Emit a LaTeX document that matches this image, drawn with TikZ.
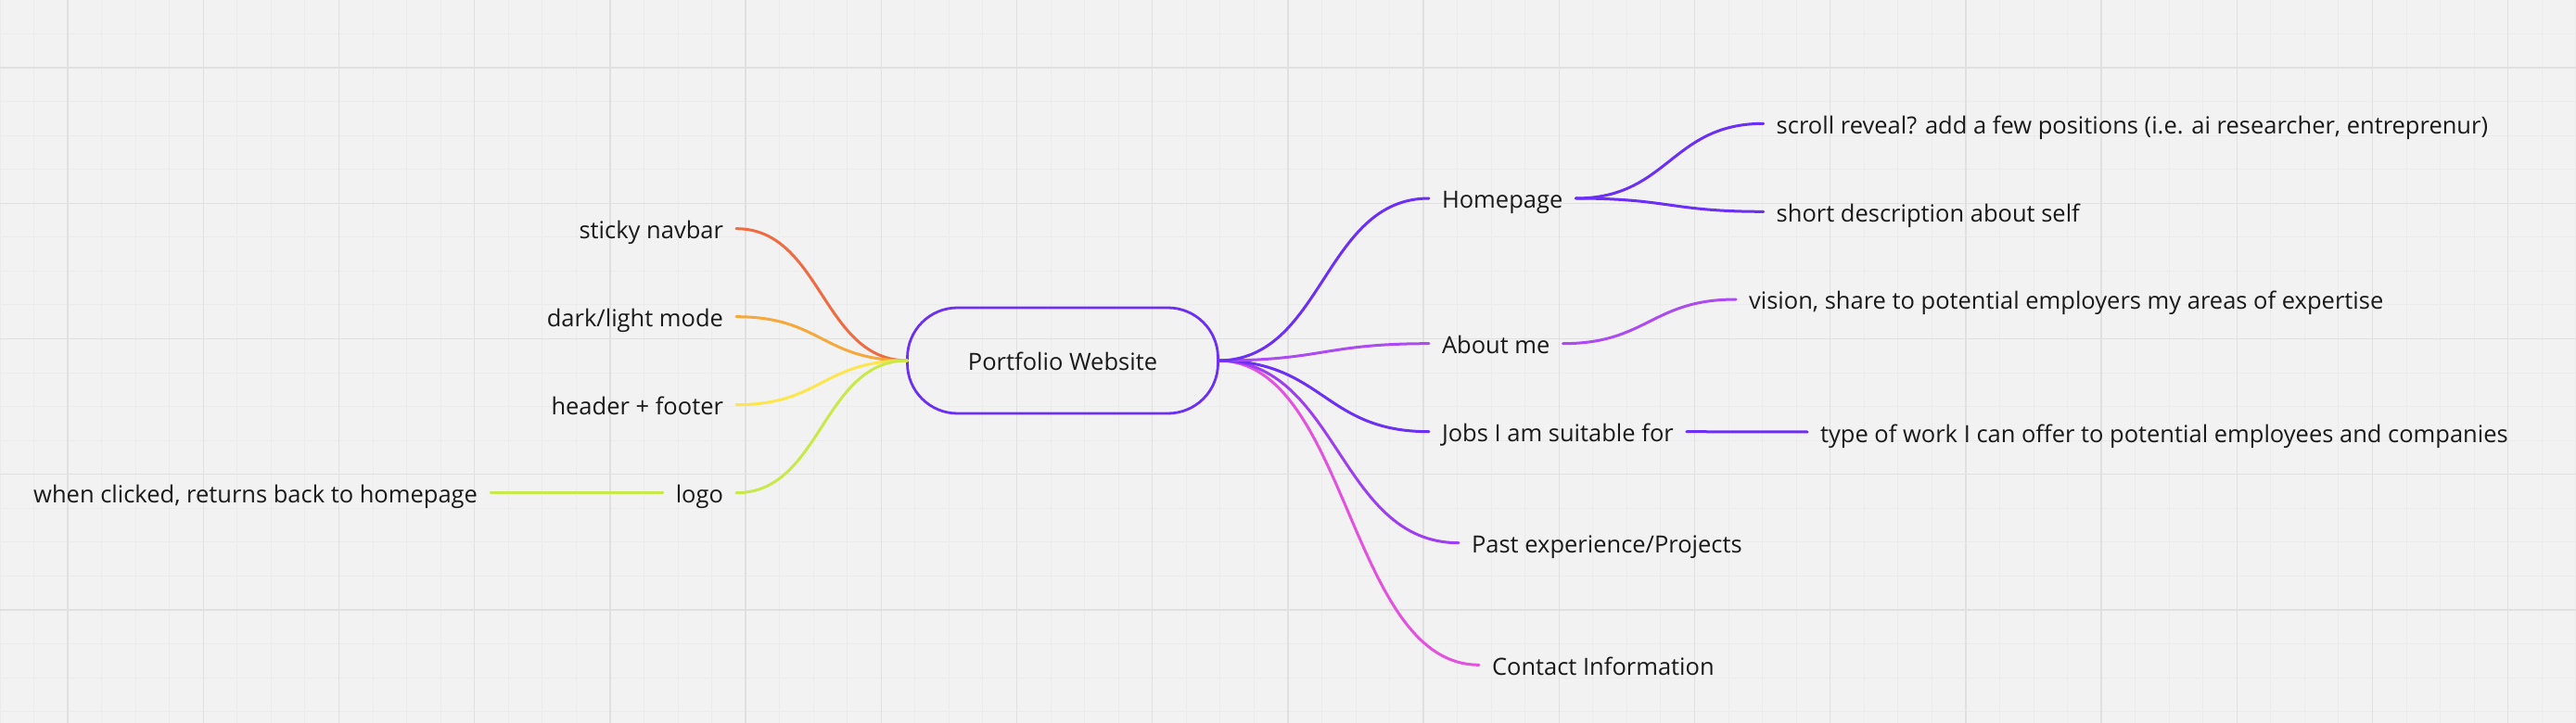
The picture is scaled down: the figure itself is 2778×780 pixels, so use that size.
\documentclass[tikz,border=0pt]{standalone}
\usepackage{fontspec}
\setmainfont{Open Sans}
\definecolor{bgc}{HTML}{F2F2F2}
\definecolor{minorc}{HTML}{EBEBEB}
\definecolor{majorc}{HTML}{E0E0E0}
\definecolor{textc}{HTML}{1A1A1A}
\definecolor{cblue}{HTML}{6B2FF5}
\definecolor{cviolet}{HTML}{AD4BF2}
\definecolor{cpast}{HTML}{9D3FF0}
\definecolor{cpink}{HTML}{E551DF}
\definecolor{cred}{HTML}{EF6B42}
\definecolor{corange}{HTML}{F5A83C}
\definecolor{cyellow}{HTML}{FDE54B}
\definecolor{clime}{HTML}{C9E94B}
\begin{document}
\begin{tikzpicture}[x=0.5pt,y=-0.5pt,
  txt/.style={font=\fontsize{12.75pt}{15pt}\selectfont, text=textc, inner xsep=7pt, inner ysep=0pt, outer sep=0pt, text height=11pt, text depth=0pt},
  rootbox/.style={draw=cblue, line width=1.4pt, rounded corners=27pt, minimum width=167.5pt, minimum height=57pt, outer sep=0pt, inner sep=0pt, font=\fontsize{12.75pt}{15pt}\selectfont, text=textc, text height=11pt, text depth=0pt},
  conn/.style={line width=1.5pt, line cap=round},
  minorline/.style={draw=minorc, line width=0.5pt},
  majorline/.style={draw=majorc, line width=0.75pt}
]
\fill[bgc] (0,0) rectangle (2778,780);
\useasboundingbox (0,0) rectangle (2778,780);
% grid
\foreach \i in {0,...,76} { \draw[minorline] ({\i*36.55},0) -- ({\i*36.55},780); }
\foreach \j in {0,...,21} { \draw[minorline] (0,{\j*36.55}) -- (2778,{\j*36.55}); }
\foreach \i in {0,...,18} { \draw[majorline] ({(2+4*\i)*36.55},0) -- ({(2+4*\i)*36.55},780); }
\foreach \j in {0,...,4} { \draw[majorline] (0,{(2+4*\j)*36.55}) -- (2778,{(2+4*\j)*36.55}); }

% nodes
\node[rootbox] (root) at (1146,389) {Portfolio Website};

\node[txt, anchor=east] (sticky) at (794,246.7) {sticky navbar};
\node[txt, anchor=east] (dark) at (794,341.7) {dark/light mode};
\node[txt, anchor=east] (header) at (794,436.7) {header + footer};
\node[txt, anchor=east] (logo) at (794,531.7) {logo};
\node[txt, anchor=east] (click) at (529,531.7) {when clicked, returns back to homepage};

\node[txt, anchor=west] (home) at (1541,214) {Homepage};
\node[txt, anchor=west] (scroll) at (1901.7,133.3) {scroll reveal? add a few positions (i.e. ai researcher, entreprenur)};
\node[txt, anchor=west] (short) at (1901.7,228.3) {short description about self};
\node[txt, anchor=west] (about) at (1541,370.7) {About me};
\node[txt, anchor=west] (vision) at (1872,323) {vision, share to potential employers my areas of expertise};
\node[txt, anchor=west] (jobs) at (1541,465.7) {Jobs I am suitable for};
\node[txt, anchor=west] (work) at (1949,466) {type of work I can offer to potential employees and companies};
\node[txt, anchor=west] (past) at (1573,585.7) {Past experience/Projects};
\node[txt, anchor=west] (contact) at (1595,717.3) {Contact Information};

% left connectors
\draw[conn, cred] (sticky.east) .. controls +(92,0) and +(-92,0) .. (root.west);
\draw[conn, corange] (dark.east) .. controls +(92,0) and +(-92,0) .. (root.west);
\draw[conn, cyellow] (header.east) .. controls +(92,0) and +(-92,0) .. (root.west);
\draw[conn, clime] (logo.east) .. controls +(92,0) and +(-92,0) .. (root.west);
\draw[conn, clime] (logo.west) -- (click.east);

% right connectors
\draw[conn, cpink] (root.east) .. controls +(141,0) and +(-141,0) .. (contact.west);
\draw[conn, cpast] (root.east) .. controls +(130,0) and +(-130,0) .. (past.west);
\draw[conn, cblue] (root.east) .. controls +(114,0) and +(-114,0) .. (jobs.west);
\draw[conn, cviolet] (root.east) .. controls +(114,0) and +(-114,0) .. (about.west);
\draw[conn, cblue] (root.east) .. controls +(114,0) and +(-114,0) .. (home.west);

\draw[conn, cblue] (home.east) .. controls +(100,0) and +(-100,0) .. (scroll.west);
\draw[conn, cblue] (home.east) .. controls +(100,0) and +(-100,0) .. (short.west);
\draw[conn, cviolet] (about.east) .. controls +(91,0) and +(-91,0) .. (vision.west);
\draw[conn, cblue] (jobs.east) -- (work.west);
\end{tikzpicture}
\end{document}
